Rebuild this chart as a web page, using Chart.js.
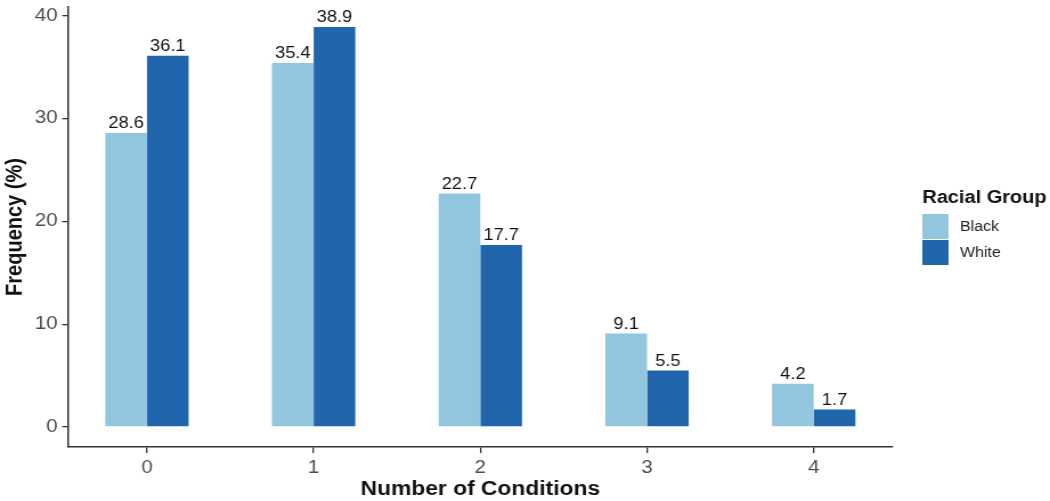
<!DOCTYPE html>
<html>
<head>
<meta charset="utf-8">
<script src="https://cdn.jsdelivr.net/npm/chart.js@4.4.1/dist/chart.umd.min.js"></script>
<style>
  html, body { margin: 0; padding: 0; background: #fff; overflow: hidden; }
  /* the reference is a horizontally stretched export, so stretch the same way */
  #wrap { width: 921px; height: 501px; transform: scaleX(1.1401); transform-origin: 0 0; }
</style>
</head>
<body>
<div id="wrap"><canvas id="chart" width="921" height="501"></canvas></div>
<script>
// values
const categories = [0, 1, 2, 3, 4];
const black = [28.6, 35.4, 22.7, 9.1, 4.2];
const white = [36.1, 38.9, 17.7, 5.5, 1.7];
const yTicks = [0, 10, 20, 30, 40];
const groupNames = ['Black', 'White'];
const groupColors = ['#92C5DE', '#2166AC'];

const FONT = "'Liberation Sans', Arial, sans-serif";

const toPoints = vals => categories.map((c, i) => ({ x: c, y: vals[i] }));

// value labels on top of each bar
const barLabels = {
  id: 'barLabels',
  afterDatasetsDraw(chart) {
    const ctx = chart.ctx;
    ctx.save();
    ctx.font = `16px ${FONT}`;
    ctx.fillStyle = '#111';
    ctx.textAlign = 'center';
    ctx.textBaseline = 'bottom';
    chart.data.datasets.forEach((ds, di) => {
      chart.getDatasetMeta(di).data.forEach((bar, i) => {
        ctx.fillText(ds.data[i].y.toFixed(1), bar.x, bar.y - 1);
      });
    });
    ctx.restore();
  }
};

// ggplot-style legend to the right
const sideLegend = {
  id: 'sideLegend',
  afterDraw(chart) {
    const ctx = chart.ctx;
    const x = chart.chartArea.right + 26;
    ctx.save();
    ctx.fillStyle = '#111';
    ctx.font = `bold 17.5px ${FONT}`;
    ctx.textBaseline = 'alphabetic';
    ctx.fillText('Racial Group', x, 203);
    ctx.font = `14px ${FONT}`;
    ctx.textBaseline = 'middle';
    chart.data.datasets.forEach((ds, i) => {
      const y = 214 + i * 26;
      ctx.fillStyle = ds.backgroundColor;
      ctx.fillRect(x, y, 23, 25);
      ctx.fillStyle = '#222';
      ctx.fillText(ds.label, x + 33, y + 13);
    });
    ctx.restore();
  }
};

new Chart(document.getElementById('chart'), {
  type: 'bar',
  data: {
    datasets: [
      { label: groupNames[0], data: toPoints(black), backgroundColor: groupColors[0] },
      { label: groupNames[1], data: toPoints(white), backgroundColor: groupColors[1] }
    ]
  },
  options: {
    responsive: false,
    animation: false,
    layout: { padding: { left: 0, right: 138, top: 7, bottom: 0 } },
    categoryPercentage: 0.5,
    barPercentage: 1.0,
    plugins: { legend: { display: false }, tooltip: { enabled: false } },
    scales: {
      x: {
        type: 'linear',
        min: -0.474,
        max: 4.474,
        offset: false,
        afterBuildTicks: s => { s.ticks = categories.map(v => ({ value: v })); },
        afterFit: s => { s.height = 54; },
        ticks: { color: '#4d4d4d', font: { family: FONT, size: 18 }, padding: 4, callback: v => String(v) },
        grid: { offset: false, drawOnChartArea: false, drawTicks: true, tickLength: 6, color: '#333', lineWidth: 1.3 },
        border: { display: true, color: '#333', width: 1.5 },
        title: { display: true, text: 'Number of Conditions', color: '#111',
                 font: { family: FONT, size: 20, weight: 'bold' }, padding: { top: 0, bottom: 0 } }
      },
      y: {
        min: -1.945,
        max: 40.845,
        afterBuildTicks: s => { s.ticks = yTicks.map(v => ({ value: v })); },
        afterFit: s => { s.width = 59.6; s.paddingTop = 0; s.paddingBottom = 0; },
        ticks: { color: '#4d4d4d', font: { family: FONT, size: 18 }, padding: 4 },
        grid: { drawOnChartArea: false, drawTicks: true, tickLength: 5, color: '#333', lineWidth: 1.3 },
        border: { display: true, color: '#333', width: 1.5 },
        title: { display: true, text: 'Frequency (%)', color: '#111',
                 font: { family: FONT, size: 20, weight: 'bold' }, padding: { top: 1, bottom: 0 } }
      }
    }
  },
  plugins: [barLabels, sideLegend]
});
</script>
</body>
</html>
